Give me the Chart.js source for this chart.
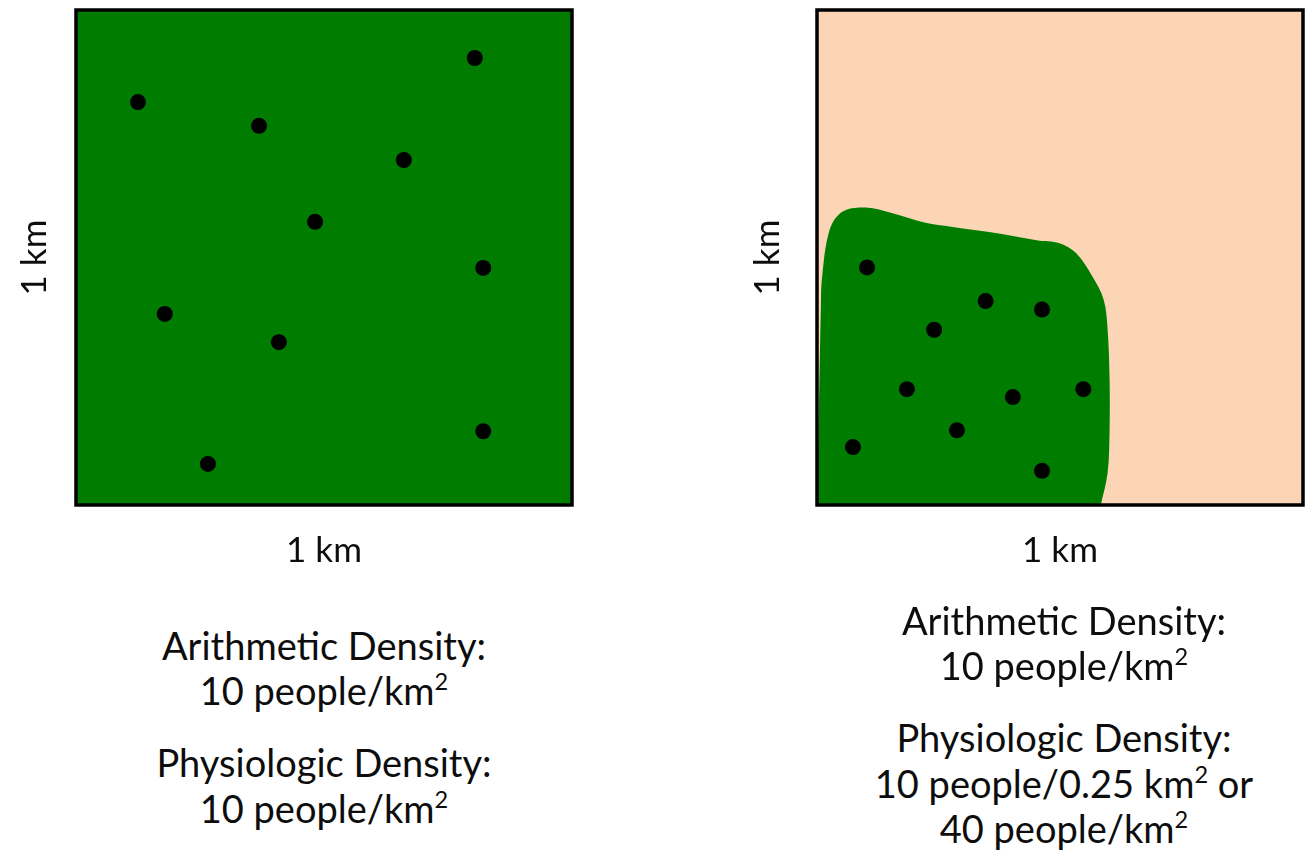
<!DOCTYPE html>
<html>
<head>
<meta charset="utf-8">
<script src="https://cdn.jsdelivr.net/npm/chart.js@4.4.0/dist/chart.umd.min.js"></script>
<style>
  html, body { margin: 0; padding: 0; background: #fff; }
  body { width: 1311px; height: 852px; position: relative; overflow: hidden; font-family: Lato, 'Noto Sans', sans-serif; }
  canvas { position: absolute; top: 0; }
  .line { position: absolute; width: 560px; text-align: center; font-size: 38px; line-height: 40px; color: #0d0d0d; white-space: nowrap; }
  .sq { font-size: 0.62em; position: relative; top: -0.62em; }
</style>
</head>
<body>
<canvas id="left" width="655" height="600" style="left:0"></canvas>
<canvas id="right" width="611" height="600" style="left:700px"></canvas>

<div class="line" style="left:44px; top:625px">Arithmetic Density:</div>
<div class="line" style="left:44px; top:670px">10 people/km<span class="sq">2</span></div>
<div class="line" style="left:44px; top:742px">Physiologic Density:</div>
<div class="line" style="left:44px; top:788px">10 people/km<span class="sq">2</span></div>

<div class="line" style="left:784px; top:600px">Arithmetic Density:</div>
<div class="line" style="left:784px; top:645px">10 people/km<span class="sq">2</span></div>
<div class="line" style="left:784px; top:717px">Physiologic Density:</div>
<div class="line" style="left:784px; top:763px">10 people/0.25 km<span class="sq">2</span> or</div>
<div class="line" style="left:784px; top:808px">40 people/km<span class="sq">2</span></div>

<script>
// positions of people inside a 1 km x 1 km square (km)
const leftX = [0.804, 0.125, 0.369, 0.661, 0.482, 0.821, 0.179, 0.409, 0.821, 0.266];
const leftY = [0.903, 0.814, 0.766, 0.697, 0.572, 0.479, 0.386, 0.329, 0.149, 0.083];

const rightX = [0.103, 0.347, 0.463, 0.241, 0.185, 0.403, 0.548, 0.288, 0.074, 0.463];
const rightY = [0.480, 0.412, 0.395, 0.354, 0.234, 0.218, 0.234, 0.151, 0.117, 0.069];

// outline of the arable (green) land in the right square
const landX = [0, 0.004, 0.008, 0.010, 0.026, 0.053, 0.101, 0.154, 0.223, 0.276, 0.371, 0.452, 0.499, 0.533, 0.567, 0.590, 0.598, 0.602, 0.602, 0.598, 0.584];
const landY = [0, 0.200, 0.400, 0.455, 0.556, 0.593, 0.601, 0.590, 0.570, 0.562, 0.549, 0.535, 0.529, 0.509, 0.461, 0.414, 0.354, 0.253, 0.152, 0.065, 0];

const axisLabel = '1 km';
const GREEN = '#007d00';
const PEACH = '#fbd5b5';

const toPoints = (xs, ys) => xs.map((x, i) => ({ x, y: ys[i] }));

const boxPlugin = {
  id: 'box',
  beforeDatasetsDraw(chart, args, opts) {
    const { ctx, chartArea: a } = chart;
    ctx.save();
    ctx.fillStyle = opts.fill;
    ctx.fillRect(a.left, a.top, a.right - a.left, a.bottom - a.top);
    ctx.restore();
  },
  afterDatasetsDraw(chart) {
    const { ctx, chartArea: a } = chart;
    ctx.save();
    ctx.strokeStyle = '#000';
    ctx.lineWidth = 3.5;
    ctx.strokeRect(a.left, a.top, a.right - a.left, a.bottom - a.top);
    ctx.restore();
  }
};

function makeChart(id, datasets, fill, yWidth, yTitlePad, rightPad) {
  return new Chart(document.getElementById(id), {
    type: 'scatter',
    data: { datasets },
    plugins: [boxPlugin],
    options: {
      responsive: false,
      animation: false,
      layout: { padding: { top: 10, right: rightPad, left: 0, bottom: 0 } },
      plugins: { legend: { display: false }, tooltip: { enabled: false }, box: { fill } },
      scales: {
        x: {
          min: 0, max: 1,
          ticks: { display: false },
          grid: { display: false },
          border: { display: false },
          title: { display: true, text: axisLabel, color: '#0d0d0d', font: { family: 'Lato', size: 35 }, padding: { top: 0, bottom: 28 } },
          afterFit: s => { s.height = 95; }
        },
        y: {
          min: 0, max: 1,
          ticks: { display: false },
          grid: { display: false },
          border: { display: false },
          title: { display: true, text: axisLabel, color: '#0d0d0d', font: { family: 'Lato', size: 35 }, padding: { top: yTitlePad, bottom: 0 } },
          afterFit: s => { s.width = yWidth; }
        }
      }
    }
  });
}

const dots = pts => ({
  data: pts,
  pointRadius: 8,
  pointBackgroundColor: '#000',
  pointBorderWidth: 0,
  showLine: false
});

makeChart('left', [dots(toPoints(leftX, leftY))], GREEN, 76, 14, 83);

makeChart('right', [
  dots(toPoints(rightX, rightY)),
  {
    data: toPoints(landX, landY),
    showLine: true,
    tension: 0.35,
    pointRadius: 0,
    borderWidth: 0,
    borderColor: GREEN,
    backgroundColor: GREEN,
    fill: 'shape'
  }
], PEACH, 117, 47, 1);
</script>
</body>
</html>
